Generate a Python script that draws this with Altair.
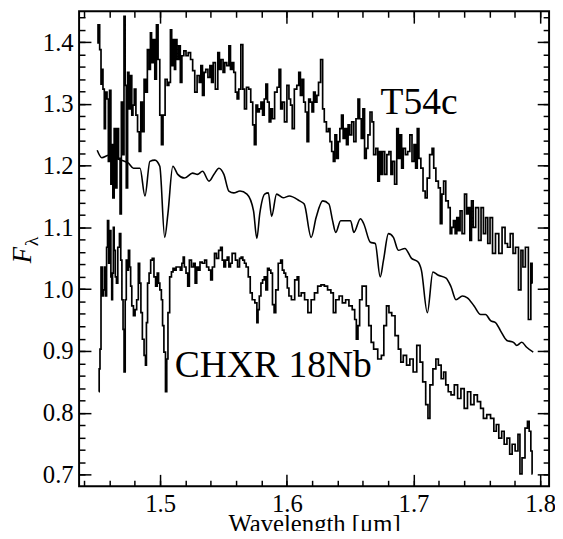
import altair as alt
import pandas as pd

# ---------------- data ----------------
T54C_WL = [1.4503, 1.4516, 1.4529, 1.4537, 1.4542, 1.4555, 1.4563, 1.4573, 1.4588, 1.4594,
           1.4607, 1.4615, 1.4620, 1.4633, 1.4641, 1.4651, 1.4666, 1.4677, 1.4690, 1.4697,
           1.4711, 1.4718, 1.4729, 1.4736, 1.4750, 1.4757, 1.4771, 1.4781, 1.4789, 1.4802,
           1.4815, 1.4828, 1.4841, 1.4853, 1.4866, 1.4880, 1.4892, 1.4906, 1.4919, 1.4927,
           1.4937, 1.4952, 1.4963, 1.4978, 1.4989, 1.5005, 1.5015, 1.5030, 1.5048, 1.5062,
           1.5075, 1.5087, 1.5095, 1.5108, 1.5118, 1.5126, 1.5139, 1.5153, 1.5165, 1.5178,
           1.5196, 1.5212, 1.5231, 1.5249, 1.5264, 1.5282, 1.5301, 1.5316, 1.5326, 1.5342,
           1.5352, 1.5368, 1.5386, 1.5399, 1.5412, 1.5425, 1.5446, 1.5464, 1.5472, 1.5490,
           1.5503, 1.5516, 1.5535, 1.5550, 1.5560, 1.5576, 1.5586, 1.5602, 1.5613, 1.5628,
           1.5646, 1.5659, 1.5672, 1.5691, 1.5706, 1.5724, 1.5737, 1.5750, 1.5763, 1.5776,
           1.5789, 1.5802, 1.5815, 1.5828, 1.5841, 1.5854, 1.5867, 1.5880, 1.5893, 1.5914,
           1.5932, 1.5945, 1.5958, 1.5971, 1.5991, 1.6010, 1.6023, 1.6036, 1.6049, 1.6069,
           1.6088, 1.6100, 1.6114, 1.6127, 1.6139, 1.6153, 1.6166, 1.6179, 1.6192, 1.6205,
           1.6217, 1.6231, 1.6244, 1.6256, 1.6277, 1.6288, 1.6303, 1.6322, 1.6334, 1.6347,
           1.6361, 1.6373, 1.6386, 1.6400, 1.6412, 1.6425, 1.6438, 1.6451, 1.6464, 1.6477,
           1.6490, 1.6503, 1.6521, 1.6536, 1.6555, 1.6568, 1.6581, 1.6594, 1.6607, 1.6620,
           1.6634, 1.6646, 1.6667, 1.6677, 1.6693, 1.6712, 1.6724, 1.6737, 1.6750, 1.6763,
           1.6782, 1.6797, 1.6815, 1.6828, 1.6841, 1.6860, 1.6875, 1.6885, 1.6901, 1.6911,
           1.6927, 1.6945, 1.6963, 1.6979, 1.6997, 1.7010, 1.7023, 1.7036, 1.7049, 1.7067,
           1.7083, 1.7101, 1.7114, 1.7140, 1.7153, 1.7166, 1.7187, 1.7205, 1.7218, 1.7231,
           1.7244, 1.7265, 1.7283, 1.7296, 1.7308, 1.7322, 1.7335, 1.7348, 1.7361, 1.7374,
           1.7392, 1.7413, 1.7425, 1.7438, 1.7451, 1.7464, 1.7478, 1.7503, 1.7524, 1.7542,
           1.7561, 1.7577, 1.7595, 1.7613, 1.7634, 1.7660, 1.7686, 1.7712, 1.7733, 1.7751,
           1.7776, 1.7795, 1.7815, 1.7842, 1.7854, 1.7873, 1.7893, 1.7920, 1.7932, 1.7940]
T54C_F = [1.399, 1.428, 1.388, 1.332, 1.356, 1.324, 1.260, 1.319, 1.308, 1.207,
          1.322, 1.170, 1.234, 1.148, 1.260, 1.164, 1.260, 1.212, 1.122, 1.303,
          1.218, 1.442, 1.330, 1.164, 1.351, 1.292, 1.346, 1.282, 1.298, 1.324,
          1.282, 1.255, 1.223, 1.303, 1.255, 1.340, 1.319, 1.388, 1.356, 1.415,
          1.367, 1.404, 1.340, 1.428, 1.372, 1.282, 1.234, 1.282, 1.340, 1.330,
          1.335, 1.420, 1.362, 1.404, 1.356, 1.404, 1.372, 1.394, 1.335, 1.378,
          1.386, 1.378, 1.383, 1.372, 1.354, 1.319, 1.346, 1.335, 1.362, 1.314,
          1.351, 1.356, 1.343, 1.362, 1.335, 1.367, 1.324, 1.383, 1.356, 1.372,
          1.351, 1.367, 1.362, 1.394, 1.356, 1.367, 1.351, 1.319, 1.308, 1.324,
          1.396, 1.324, 1.292, 1.327, 1.324, 1.303, 1.266, 1.234, 1.298, 1.287,
          1.292, 1.303, 1.282, 1.308, 1.332, 1.303, 1.271, 1.292, 1.276, 1.319,
          1.327, 1.356, 1.292, 1.303, 1.271, 1.330, 1.308, 1.298, 1.260, 1.324,
          1.330, 1.351, 1.314, 1.340, 1.303, 1.287, 1.239, 1.308, 1.303, 1.287,
          1.319, 1.303, 1.314, 1.335, 1.372, 1.292, 1.271, 1.255, 1.260, 1.239,
          1.223, 1.207, 1.250, 1.212, 1.239, 1.260, 1.282, 1.244, 1.260, 1.234,
          1.266, 1.250, 1.271, 1.239, 1.276, 1.308, 1.276, 1.244, 1.292, 1.212,
          1.228, 1.250, 1.287, 1.271, 1.218, 1.228, 1.175, 1.223, 1.186, 1.223,
          1.186, 1.218, 1.223, 1.186, 1.207, 1.170, 1.260, 1.212, 1.250, 1.196,
          1.228, 1.218, 1.223, 1.250, 1.207, 1.234, 1.196, 1.260, 1.212, 1.196,
          1.159, 1.148, 1.180, 1.218, 1.228, 1.196, 1.175, 1.164, 1.106, 1.154,
          1.175, 1.143, 1.132, 1.090, 1.100, 1.111, 1.090, 1.116, 1.095, 1.127,
          1.090, 1.154, 1.122, 1.132, 1.079, 1.143, 1.100, 1.132, 1.079, 1.132,
          1.090, 1.116, 1.074, 1.116, 1.058, 1.090, 1.058, 1.100, 1.074, 1.068,
          1.090, 1.058, 1.068, 0.999, 1.063, 1.036, 1.068, 0.951, 1.042, 1.010]

MODEL_WL = [1.4503, 1.4539, 1.4594, 1.4646, 1.4695, 1.4750, 1.4789, 1.4841, 1.4880, 1.4919,
            1.4958, 1.4997, 1.5036, 1.5061, 1.5100, 1.5139, 1.5192, 1.5256, 1.5295, 1.5334,
            1.5386, 1.5425, 1.5464, 1.5503, 1.5542, 1.5581, 1.5630, 1.5685, 1.5737, 1.5763,
            1.5786, 1.5825, 1.5854, 1.5880, 1.5919, 1.5971, 1.6020, 1.6100, 1.6137, 1.6192,
            1.6231, 1.6283, 1.6332, 1.6361, 1.6386, 1.6425, 1.6503, 1.6529, 1.6581, 1.6607,
            1.6659, 1.6698, 1.6737, 1.6763, 1.6802, 1.6841, 1.6880, 1.6932, 1.6984, 1.7036,
            1.7062, 1.7109, 1.7153, 1.7192, 1.7257, 1.7296, 1.7335, 1.7386, 1.7425, 1.7478,
            1.7530, 1.7569, 1.7608, 1.7647, 1.7686, 1.7737, 1.7789, 1.7815, 1.7854, 1.7893,
            1.7945]
MODEL_F = [1.225, 1.213, 1.217, 1.212, 1.209, 1.204, 1.196, 1.196, 1.151, 1.207,
           1.209, 1.199, 1.084, 1.122, 1.199, 1.186, 1.180, 1.188, 1.186, 1.191,
           1.175, 1.186, 1.196, 1.186, 1.159, 1.156, 1.159, 1.154, 1.127, 1.082,
           1.122, 1.154, 1.156, 1.118, 1.154, 1.148, 1.151, 1.143, 1.138, 1.084,
           1.116, 1.143, 1.138, 1.111, 1.092, 1.111, 1.111, 1.092, 1.114, 1.106,
           1.076, 1.074, 1.020, 1.047, 1.090, 1.084, 1.063, 1.066, 1.050, 1.044,
           1.031, 0.962, 1.028, 1.023, 1.018, 1.004, 0.983, 0.989, 0.986, 0.973,
           0.959, 0.959, 0.949, 0.946, 0.933, 0.917, 0.914, 0.909, 0.914, 0.906,
           0.898]

CHXR_WL = [1.4516, 1.4521, 1.4529, 1.4537, 1.4547, 1.4555, 1.4563, 1.4573, 1.4581, 1.4588,
           1.4599, 1.4607, 1.4615, 1.4620, 1.4628, 1.4633, 1.4641, 1.4651, 1.4659, 1.4672,
           1.4685, 1.4693, 1.4703, 1.4711, 1.4719, 1.4729, 1.4736, 1.4744, 1.4755, 1.4763,
           1.4771, 1.4781, 1.4797, 1.4807, 1.4822, 1.4833, 1.4843, 1.4853, 1.4866, 1.4880,
           1.4888, 1.4895, 1.4906, 1.4919, 1.4931, 1.4944, 1.4958, 1.4970, 1.4984, 1.4991,
           1.5004, 1.5015, 1.5023, 1.5036, 1.5048, 1.5056, 1.5067, 1.5083, 1.5095, 1.5108,
           1.5118, 1.5134, 1.5153, 1.5165, 1.5178, 1.5186, 1.5196, 1.5212, 1.5223, 1.5238,
           1.5256, 1.5270, 1.5282, 1.5295, 1.5308, 1.5321, 1.5342, 1.5360, 1.5373, 1.5394,
           1.5404, 1.5420, 1.5438, 1.5451, 1.5472, 1.5482, 1.5498, 1.5508, 1.5524, 1.5535,
           1.5550, 1.5560, 1.5576, 1.5586, 1.5602, 1.5620, 1.5633, 1.5646, 1.5659, 1.5672,
           1.5685, 1.5706, 1.5716, 1.5737, 1.5758, 1.5769, 1.5776, 1.5789, 1.5802, 1.5815,
           1.5828, 1.5841, 1.5854, 1.5867, 1.5880, 1.5893, 1.5906, 1.5919, 1.5945, 1.5958,
           1.5971, 1.5984, 1.5997, 1.6010, 1.6023, 1.6049, 1.6075, 1.6088, 1.6100, 1.6127,
           1.6153, 1.6179, 1.6205, 1.6231, 1.6256, 1.6283, 1.6309, 1.6334, 1.6361, 1.6373,
           1.6400, 1.6425, 1.6451, 1.6477, 1.6503, 1.6529, 1.6542, 1.6555, 1.6568, 1.6581,
           1.6607, 1.6620, 1.6634, 1.6659, 1.6672, 1.6698, 1.6737, 1.6755, 1.6776, 1.6797,
           1.6815, 1.6841, 1.6867, 1.6893, 1.6906, 1.6932, 1.6958, 1.6984, 1.7010, 1.7041,
           1.7062, 1.7083, 1.7109, 1.7119, 1.7140, 1.7166, 1.7187, 1.7205, 1.7231, 1.7244,
           1.7265, 1.7283, 1.7309, 1.7335, 1.7361, 1.7387, 1.7413, 1.7439, 1.7464, 1.7491,
           1.7517, 1.7542, 1.7561, 1.7595, 1.7621, 1.7647, 1.7660, 1.7686, 1.7706, 1.7725,
           1.7750, 1.7768, 1.7789, 1.7815, 1.7834, 1.7846, 1.7867, 1.7893, 1.7906, 1.7920,
           1.7932, 1.7940]
CHXR_F = [0.834, 0.871, 0.903, 1.036, 0.989, 0.999, 1.036, 0.989, 1.068, 1.111,
          1.042, 1.095, 1.020, 0.983, 1.026, 1.100, 1.063, 1.020, 1.010, 1.068,
          1.090, 1.047, 0.983, 0.935, 0.866, 0.983, 1.047, 1.031, 1.063, 1.036,
          1.005, 0.973, 0.957, 0.967, 0.983, 1.042, 1.010, 0.962, 0.919, 0.893,
          0.877, 0.946, 1.010, 1.026, 1.047, 1.050, 1.020, 1.005, 1.026, 1.010,
          0.999, 0.983, 0.941, 0.898, 0.834, 0.887, 0.962, 1.020, 1.028, 1.034,
          1.031, 1.036, 1.036, 1.031, 1.042, 1.052, 1.036, 1.026, 1.005, 1.047,
          1.036, 1.042, 1.010, 1.036, 1.031, 1.044, 1.042, 1.047, 1.036, 1.031,
          1.015, 1.036, 1.058, 1.050, 1.063, 1.068, 1.047, 1.036, 1.047, 1.052,
          1.036, 1.042, 1.058, 1.058, 1.047, 1.036, 1.050, 1.052, 1.047, 1.042,
          1.036, 1.020, 0.994, 0.983, 0.978, 0.946, 0.967, 0.989, 1.010, 1.015,
          1.020, 0.999, 1.034, 1.031, 1.026, 0.975, 0.962, 0.999, 1.042, 1.047,
          1.031, 1.026, 1.020, 1.002, 0.989, 0.983, 1.015, 1.020, 0.989, 0.994,
          0.983, 0.962, 0.983, 0.994, 1.005, 1.007, 1.005, 0.999, 0.994, 0.962,
          0.983, 0.989, 0.978, 0.983, 0.973, 0.967, 0.951, 0.919, 0.941, 0.983,
          1.005, 1.005, 0.973, 0.941, 0.914, 0.903, 0.887, 0.893, 0.941, 0.973,
          0.962, 0.957, 0.925, 0.903, 0.882, 0.893, 0.877, 0.887, 0.866, 0.909,
          0.882, 0.850, 0.813, 0.791, 0.845, 0.871, 0.887, 0.877, 0.855, 0.866,
          0.845, 0.834, 0.829, 0.845, 0.823, 0.839, 0.807, 0.834, 0.813, 0.829,
          0.818, 0.807, 0.791, 0.797, 0.791, 0.770, 0.781, 0.759, 0.770, 0.749,
          0.759, 0.733, 0.749, 0.738, 0.765, 0.701, 0.727, 0.775, 0.786, 0.770,
          0.738, 0.701]

LABEL_TEXT = ["T54c", "CHXR 18Nb"]
LABEL_WL = [1.674, 1.5116]
LABEL_F = [1.2836, 0.8585]

X_MAJOR = [1.5, 1.6, 1.7, 1.8]
X_MINOR = [1.44, 1.46, 1.48, 1.50, 1.52, 1.54, 1.56, 1.58, 1.60, 1.62, 1.64, 1.66,
           1.68, 1.70, 1.72, 1.74, 1.76, 1.78, 1.80]
Y_MAJOR = [0.7, 0.8, 0.9, 1.0, 1.1, 1.2, 1.3, 1.4]
Y_MINOR = [0.70, 0.72, 0.74, 0.76, 0.78, 0.80, 0.82, 0.84, 0.86, 0.88, 0.90, 0.92,
           0.94, 0.96, 0.98, 1.00, 1.02, 1.04, 1.06, 1.08, 1.10, 1.12, 1.14, 1.16,
           1.18, 1.20, 1.22, 1.24, 1.26, 1.28, 1.30, 1.32, 1.34, 1.36, 1.38, 1.40,
           1.42, 1.44]

X_DOMAIN = [1.436, 1.807]
Y_DOMAIN = [0.681, 1.450]

FONT = "Times New Roman, Liberation Serif, Nimbus Roman, DejaVu Serif, serif"

t54 = pd.DataFrame({"wl": T54C_WL, "f": T54C_F})
model = pd.DataFrame({"wl": MODEL_WL, "f": MODEL_F})
chxr = pd.DataFrame({"wl": CHXR_WL, "f": CHXR_F})
labels = pd.DataFrame({"wl": LABEL_WL, "f": LABEL_F, "t": LABEL_TEXT})

xs = alt.Scale(domain=X_DOMAIN, zero=False, nice=False)
ys = alt.Scale(domain=Y_DOMAIN, zero=False, nice=False)

common = dict(domain=False, grid=False, tickColor="black", tickWidth=1.5)


def major_axis(orient, values, show_labels, title=None):
    size = 12
    kw = dict(common)
    kw.update(orient=orient, values=values, tickSize=size, offset=-size,
              labels=show_labels, title=title)
    if show_labels:
        kw.update(format=".1f", labelFont=FONT, labelFontSize=25, labelColor="black",
                  labelPadding=6, labelFlush=False, labelOverlap=False)
    if title:
        kw.update(titleFont=FONT, titleFontSize=25, titleFontWeight="normal",
                  titleColor="black", titlePadding=-5)
    return alt.Axis(**kw)


def minor_axis(orient, values):
    kw = dict(common)
    kw.update(orient=orient, values=values, tickSize=6, offset=-6, labels=False, title=None)
    return alt.Axis(**kw)


def X(axis):
    return alt.X("wl:Q", scale=xs, axis=axis)


def Y(axis):
    return alt.Y("f:Q", scale=ys, axis=axis)


l_t54 = alt.Chart(t54).mark_line(color="black", strokeWidth=1.7, interpolate="step").encode(
    x=X(major_axis("bottom", X_MAJOR, True, "Wavelength [μm]")),
    y=Y(major_axis("left", Y_MAJOR, True)),
)
l_model = alt.Chart(model).mark_line(color="black", strokeWidth=1.6, interpolate="monotone").encode(
    x=X(minor_axis("bottom", X_MINOR)),
    y=Y(minor_axis("left", Y_MINOR)),
)
l_chxr = alt.Chart(chxr).mark_line(color="black", strokeWidth=1.7, interpolate="step").encode(
    x=X(major_axis("top", X_MAJOR, False)),
    y=Y(major_axis("right", Y_MAJOR, False)),
)
l_text = alt.Chart(labels).mark_text(font=FONT, fontSize=38, align="left",
                                     baseline="alphabetic", color="black").encode(
    x=X(minor_axis("top", X_MINOR)),
    y=Y(minor_axis("right", Y_MINOR)),
    text="t:N",
)

ytitle = pd.DataFrame({"s": ["F", "λ"]})
l_F = alt.Chart(ytitle.iloc[[0]]).mark_text(font=FONT, fontSize=27, fontStyle="italic",
                                             angle=270, color="black").encode(
    x=alt.value(-57), y=alt.value(247), text="s:N")
l_lam = alt.Chart(ytitle.iloc[[1]]).mark_text(font=FONT, fontSize=20,
                                               angle=270, color="black").encode(
    x=alt.value(-48), y=alt.value(233), text="s:N")

chart = alt.layer(l_t54, l_model, l_chxr, l_text, l_F, l_lam).resolve_axis(
    x="independent", y="independent"
).properties(
    width=476, height=481,
    autosize=alt.AutoSizeParams(type="none"),
    padding={"left": 72, "top": 0, "right": 6, "bottom": 42},
    background="white",
).configure_view(stroke="black", strokeWidth=2)

chart.save("out.html", embed_options={"renderer": "svg", "actions": False})
